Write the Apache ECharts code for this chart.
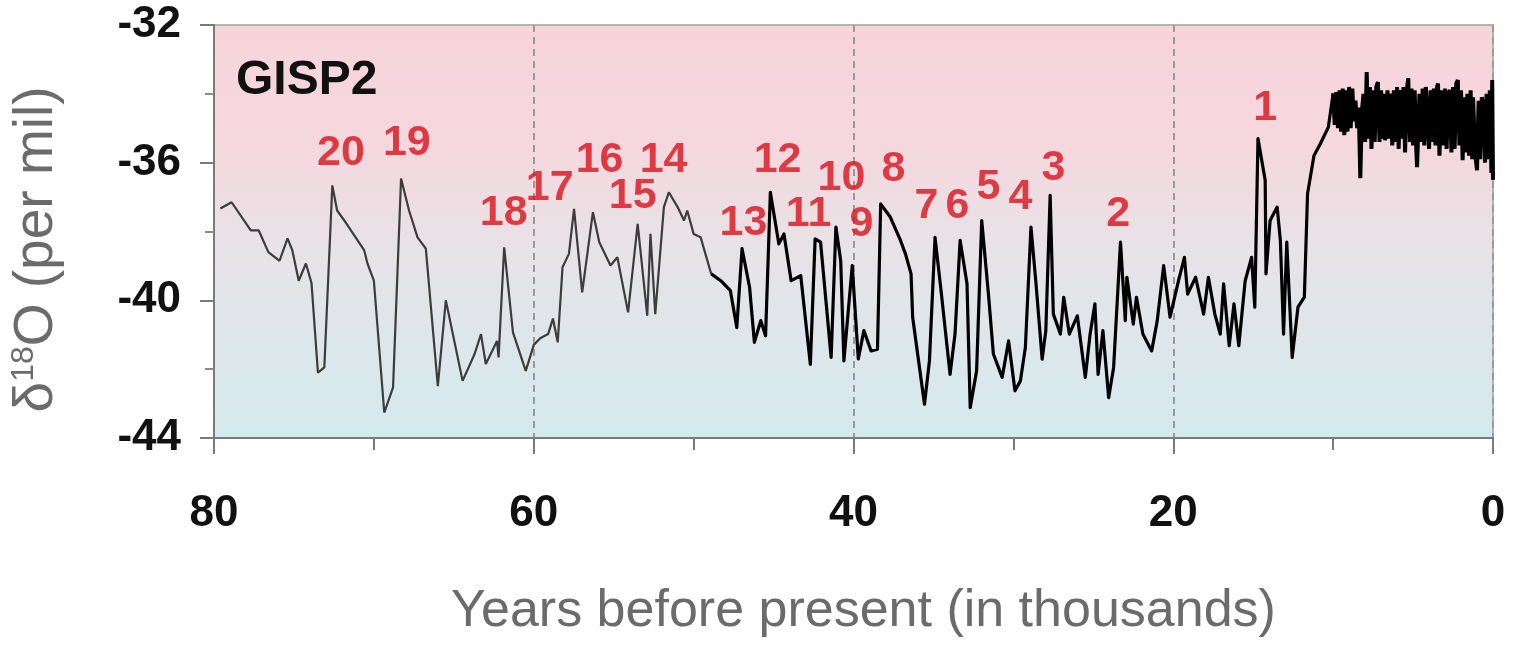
<!DOCTYPE html>
<html>
<head>
<meta charset="utf-8">
<title>GISP2</title>
<script src="https://cdn.jsdelivr.net/npm/echarts@6/dist/echarts.min.js"></script>
<style>
  html, body { margin: 0; padding: 0; background: #fff; }
  #main { width: 1522px; height: 646px; }
</style>
</head>
<body>
<div id="main"></div>
<script>
// glacial part, thin grey trace (ka BP, d18O per mil)
var oldAges = [79.6, 78.9, 77.7, 77.2, 76.6, 75.9, 75.4, 75.1, 74.7, 74.25, 73.9, 73.5, 73.1,
  72.6, 72.3, 71.85, 71.3, 70.6, 70.4, 70.0, 69.35, 68.8, 68.3, 67.8, 67.27, 66.75, 66.0,
  65.5, 64.45, 63.7, 63.3, 63.0, 62.6, 62.3, 62.2, 61.85, 61.3, 60.5, 60.0, 59.6, 59.1,
  58.8, 58.5, 58.2, 57.8, 57.48, 56.97, 56.3, 55.9, 55.2, 54.77, 54.1, 53.5, 52.9, 52.7,
  52.4, 51.86, 51.55, 51.0, 50.6, 50.4, 50.0, 49.56, 48.9];
var oldValues = [-37.33, -37.15, -37.97, -37.97, -38.6, -38.85, -38.2, -38.55, -39.43, -38.93, -39.5, -42.1, -41.95,
  -36.66, -37.39, -37.68, -38.06, -38.55, -38.93, -39.43, -43.26, -42.53, -36.46, -37.39, -38.17, -38.5, -42.49,
  -40.0, -42.34, -41.56, -40.98, -41.85, -41.47, -41.18, -41.66, -38.46, -40.93, -42.05, -41.3, -41.1, -40.98,
  -40.53, -41.22, -39.04, -38.65, -37.34, -39.77, -37.44, -38.31, -38.99, -38.75, -40.35, -37.78, -40.45, -38.07,
  -40.4, -37.29, -36.86, -37.29, -37.68, -37.39, -38.07, -38.17, -39.23];

// denser black trace, ~49 ka to 10 ka
var newAges = [48.9, 48.3, 47.7, 47.3, 46.97, 46.5, 46.2, 45.8, 45.5, 45.2, 44.67, 44.35, 43.9, 43.3,
  42.7, 42.4, 42.06, 41.4, 41.1, 40.8, 40.6, 40.08, 39.7, 39.35, 38.9, 38.5, 38.3, 37.7, 37.06,
  36.75, 36.4, 36.3, 35.56, 35.25, 34.9, 34.5, 33.96, 33.65, 33.33, 32.9, 32.7, 32.3, 31.98,
  31.56, 31.25, 30.7, 30.3, 29.9, 29.56, 29.25, 28.9, 28.6, 28.2, 27.97, 27.7, 27.5, 27.06,
  26.85, 26.5, 26.0, 25.5, 25.2, 24.9, 24.7, 24.4, 24.04, 23.73, 23.3, 23.0, 22.9, 22.5, 22.3,
  21.9, 21.35, 21.0, 20.6, 20.2, 19.67, 19.3, 19.1, 18.6, 18.1, 17.8, 17.4, 17.06, 16.85, 16.5,
  16.2, 15.9, 15.5, 15.1, 14.9, 14.7, 14.25, 14.2, 13.94, 13.5, 13.3, 13.1, 12.9, 12.56, 12.2,
  11.8, 11.6, 11.2, 10.8, 10.3, 10.0];
var newValues = [-39.23, -39.43, -39.72, -40.79, -38.5, -39.62, -41.22, -40.59, -41.03, -36.86, -38.36, -38.07, -39.43, -39.28,
  -41.86, -38.21, -38.31, -41.66, -37.87, -38.85, -41.76, -38.99, -41.7, -40.88, -41.47, -41.42, -37.2, -37.58, -38.26,
  -38.65, -39.23, -40.49, -43.02, -41.76, -38.17, -39.82, -42.15, -40.98, -38.26, -39.52, -43.12, -42.05, -37.68,
  -39.82, -41.56, -42.24, -41.18, -42.63, -42.34, -41.37, -37.87, -39.43, -41.71, -40.88, -36.95, -40.4, -40.98,
  -39.91, -40.98, -40.45, -42.24, -40.98, -40.1, -42.15, -40.88, -42.83, -41.95, -38.31, -40.59, -39.33, -40.69, -39.91,
  -40.98, -41.47, -40.59, -38.99, -40.49, -39.43, -38.75, -39.82, -39.33, -40.4, -39.33, -40.4, -40.98, -39.52, -41.32,
  -40.1, -41.32, -39.43, -38.75, -40.2, -35.3, -36.51, -39.23, -37.68, -37.29, -38.26, -40.98, -38.31, -41.66, -40.2,
  -39.91, -36.9, -35.8, -35.45, -34.97, -33.99];

// Holocene, noisy band from 10 ka to present
var holoAges = [10.0, 9.9, 9.8, 9.7, 9.6, 9.5, 9.4, 9.3, 9.2, 9.1, 9.0, 8.9, 8.8, 8.7, 8.6, 8.5, 8.4, 8.3, 8.2, 8.1,
  8.0, 7.9, 7.8, 7.7, 7.6, 7.5, 7.4, 7.3, 7.2, 7.1, 7.0, 6.9, 6.8, 6.75, 6.6, 6.5, 6.4, 6.3, 6.2,
  6.1, 6.0, 5.9, 5.8, 5.7, 5.6, 5.5, 5.4, 5.3, 5.2, 5.1, 5.0, 4.9, 4.8, 4.75, 4.6, 4.5, 4.4, 4.3,
  4.2, 4.1, 4.0, 3.9, 3.8, 3.7, 3.6, 3.5, 3.44, 3.35, 3.2, 3.1, 3.0, 2.9, 2.8, 2.7, 2.6, 2.5, 2.4,
  2.3, 2.2, 2.1, 2.0, 1.9, 1.8, 1.7, 1.6, 1.5, 1.4, 1.3, 1.25, 1.1, 1.0, 0.9, 0.8, 0.7, 0.6, 0.5,
  0.4, 0.3, 0.2, 0.1, 0.05, 0.0];
var holoValues = [-33.99, -34.9, -33.95, -35.0, -33.9, -35.1, -33.85, -35.2, -33.9, -35.1, -33.8, -35.0, -33.85, -34.8, -34.2, -35.0, -34.4, -36.45, -34.5, -34.0,
  -35.4, -33.37, -35.3, -33.8, -35.6, -33.9, -35.4, -33.8, -33.66, -35.4, -33.9, -35.3, -34.0, -35.35, -33.9, -35.3, -33.99, -35.5, -33.9,
  -35.4, -33.8, -35.6, -33.89, -35.3, -33.8, -35.7, -33.9, -33.55, -35.4, -33.85, -35.5, -33.9, -35.6, -36.13, -34.0, -35.4, -33.85, -35.5,
  -33.8, -33.75, -35.6, -33.9, -35.4, -33.85, -35.5, -33.8, -33.7, -35.8, -33.9, -35.5, -33.85, -35.6, -34.0, -33.89, -35.7, -33.8, -35.6,
  -33.7, -33.6, -35.5, -33.9, -35.93, -34.1, -35.7, -34.0, -35.8, -33.9, -35.9, -34.1, -35.8, -36.22, -34.2, -35.9, -34.1, -34.3, -36.0,
  -34.0, -35.9, -33.9, -36.3, -33.6, -36.5];

// numbered interstadials, label anchor in data units
var eventNames = ['20', '19', '18', '17', '16', '15', '14', '13', '12', '11', '10', '9', '8', '7', '6', '5', '4', '3', '2', '1'];
var eventAges = [72.06, 67.94, 61.88, 59.0, 55.88, 53.81, 51.88, 46.88, 44.75, 42.81, 40.75, 39.5, 37.5, 35.44, 33.5, 31.56, 29.56, 27.5, 23.44, 14.25];
var eventValues = [-35.73, -35.44, -37.48, -36.75, -35.93, -36.98, -35.93, -37.77, -35.93, -37.5, -36.46, -37.8, -36.19, -37.27, -37.27, -36.72, -37.01, -36.17, -37.5, -34.42];

var xTicks = { min: 0, max: 80, interval: 20 };
var yTicks = { min: -44, max: -32, interval: 4 };

var font = "'Liberation Sans', Arial, Helvetica, sans-serif";

function pairs(xs, ys) {
  var out = [];
  for (var i = 0; i < xs.length; i++) out.push([xs[i], ys[i]]);
  return out;
}

var events = [];
for (var i = 0; i < eventNames.length; i++) {
  events.push({ name: eventNames[i], value: [eventAges[i], eventValues[i]] });
}

var chart = echarts.init(document.getElementById('main'), null, { renderer: 'canvas' });

var opt = {
  animation: false,
  textStyle: { fontFamily: font },
  title: {
    text: 'GISP2',
    left: 231,
    top: 52,
    textStyle: { fontFamily: font, fontSize: 48, fontWeight: 'bold', color: '#111' }
  },
  grid: {
    left: 213, right: 29, top: 25, bottom: 208,
    show: true,
    borderColor: '#b4b4b4',
    borderWidth: 2,
    backgroundColor: {
      type: 'linear', x: 0, y: 0, x2: 0, y2: 1,
      colorStops: [
        { offset: 0, color: '#f7d4da' },
        { offset: 0.3, color: '#f4d8de' },
        { offset: 0.55, color: '#e7e3e7' },
        { offset: 1, color: '#d3eaee' }
      ]
    }
  },
  xAxis: {
    type: 'value',
    inverse: true,
    min: xTicks.min, max: xTicks.max, interval: xTicks.interval,
    name: 'Years before present (in thousands)',
    nameLocation: 'middle',
    nameGap: 148,
    nameTextStyle: { fontFamily: font, fontSize: 52, color: '#6b6b6b', padding: [0, 0, 0, 20] },
    axisLine: { show: true, onZero: false, lineStyle: { color: '#7a7a7a', width: 2 } },
    axisTick: { show: true, length: 16, lineStyle: { color: '#7a7a7a', width: 2 } },
    minorTick: { show: true, splitNumber: 2, length: 12, lineStyle: { color: '#7a7a7a', width: 2 } },
    axisLabel: { margin: 54, fontFamily: font, fontSize: 44, fontWeight: 'bold', color: '#111' },
    splitLine: { show: true, lineStyle: { color: '#999', width: 2, type: [7, 5] } }
  },
  yAxis: {
    type: 'value',
    min: yTicks.min, max: yTicks.max, interval: yTicks.interval,
    name: '{a|δ}{s|18}{a|O (per mil)}',
    nameLocation: 'middle',
    nameGap: 148,
    nameTextStyle: {
      color: '#6b6b6b',
      padding: [0, 36, 0, 0],
      rich: {
        a: { fontFamily: font, fontSize: 55, color: '#6b6b6b', lineHeight: 58 },
        s: { fontFamily: font, fontSize: 32, color: '#6b6b6b', verticalAlign: 'top', lineHeight: 58 }
      }
    },
    axisLine: { show: true, onZero: false, lineStyle: { color: '#7a7a7a', width: 2 } },
    axisTick: { show: true, length: 14, lineStyle: { color: '#7a7a7a', width: 2 } },
    minorTick: { show: true, splitNumber: 2, length: 9, lineStyle: { color: '#8a8a8a', width: 2 } },
    axisLabel: { margin: 33, fontFamily: font, fontSize: 44, fontWeight: 'bold', color: '#111' },
    splitLine: { show: false }
  },
  series: [
    {
      type: 'line',
      data: pairs(oldAges, oldValues),
      showSymbol: false,
      lineStyle: { color: '#3c3c3c', width: 2.2 },
      z: 3
    },
    {
      type: 'line',
      data: pairs(newAges, newValues),
      showSymbol: false,
      lineStyle: { color: '#000', width: 3.2, join: 'round' },
      z: 3
    },
    {
      type: 'line',
      data: pairs(holoAges, holoValues),
      showSymbol: false,
      lineStyle: { color: '#000', width: 4 },
      z: 3
    },
    {
      type: 'scatter',
      data: events,
      symbolSize: 0,
      silent: true,
      z: 5,
      label: {
        show: true,
        position: 'inside',
        formatter: '{b}',
        fontFamily: font,
        fontSize: 43,
        fontWeight: 'bold',
        color: '#d8121c'
      }
    }
  ]
};

chart.setOption(opt);
</script>
</body>
</html>
